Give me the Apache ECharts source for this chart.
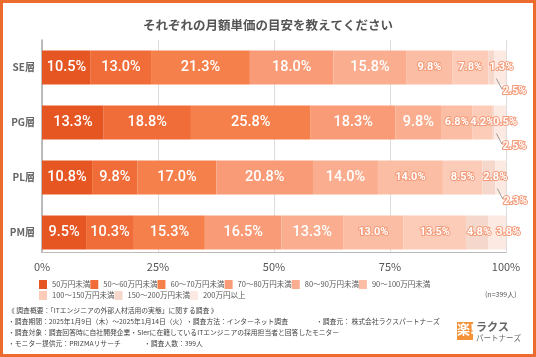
<!DOCTYPE html>
<html><head><meta charset="utf-8">
<script src="https://cdn.jsdelivr.net/npm/echarts@6/dist/echarts.min.js"></script>
<style>html,body{margin:0;padding:0;background:#fff}#c{width:536px;height:357px}</style>
</head><body><div id="c"></div>
<script>
const categories = ['SE層','PG層','PL層','PM層'];
const seriesNames = ['50万円未満','50～60万円未満','60～70万円未満','70～80万円未満','80～90万円未満','90～100万円未満','100～150万円未満','150～200万円未満','200万円以上'];
const s1 = [10.5,13.3,10.8,9.5];
const s2 = [13.0,18.8,9.8,10.3];
const s3 = [21.3,25.8,17.0,15.3];
const s4 = [18.0,18.3,20.8,16.5];
const s5 = [15.8,9.8,14.0,13.3];
const s6 = [9.8,6.8,14.0,13.0];
const s7 = [7.8,4.2,8.5,13.5];
const s8 = [1.3,0.5,2.8,4.8];
const s9 = [2.5,2.5,2.3,3.8];
const xTicks = [0,25,50,75,100];
const seriesValues = [s1,s2,s3,s4,s5,s6,s7,s8,s9];
const colors = ['#E65623','#F06C38','#F6804C','#F89B76','#FAAE8F','#FBBDA3','#FDCCB8','#F6D7CB','#FCE9E1'];
// which category labels of the last series are pulled outside with a leader line
const outsideLast = [true,true,true,false];

const NUMF = "Roboto,'Noto Sans',sans-serif";
const JP = "'Noto Sans CJK JP','Noto Sans',sans-serif";
const fmt = p => Number(p.value).toFixed(1) + '%';

const bigLabel = {show:true, position:'inside', color:'#fff', fontSize:14.5, fontWeight:500, fontFamily:NUMF, formatter:fmt};
const smallLabel = {show:true, position:'inside', color:'#fff', fontSize:11, fontWeight:'bold', fontFamily:NUMF,
  textBorderColor:'#F49A78', textBorderWidth:2, formatter:fmt};

const series = seriesValues.map((vals, si) => {
  const s = {
    name: seriesNames[si], type:'bar', stack:'total', barWidth:34,
    itemStyle:{color:colors[si]},
    label: si < 5 ? bigLabel : Object.assign({}, smallLabel),
    data: vals.slice()
  };
  if (si === 7) { s.label = Object.assign({}, smallLabel, {position:'insideLeft', distance:1}); }
  if (si === 8) {
    s.label = Object.assign({}, smallLabel, {position:'insideLeft', distance:8});
    s.labelLayout = p => outsideLast[p.dataIndex] ? {dy:24} : {};
  }
  return s;
});

// leader lines for the pulled-out labels, anchored at the start of the last segment
const leaderData = [];
categories.forEach((c, i) => {
  if (outsideLast[i]) {
    let start = 0;
    for (let k = 0; k < 8; k++) start += seriesValues[k][i];
    leaderData.push([start, i]);
  }
});
series.push({
  type:'custom', name:'leader', silent:true, z:5,
  renderItem: (params, api) => {
    const p = api.coord([api.value(0), api.value(1)]);
    return {type:'line', shape:{x1:p[0]+2, y1:p[1]+11, x2:p[0]+7.5, y2:p[1]+21.5},
      style:{stroke:'#9a9a9a', lineWidth:1}};
  },
  data: leaderData
});

const chart = echarts.init(document.getElementById('c'), null, {renderer:'canvas'});
chart.setOption({
  animation:false,
  title:{text:'それぞれの月額単価の目安を教えてください', left:'center', top:14,
    textStyle:{fontFamily:JP, fontSize:12.5, fontWeight:'bold', color:'#555'}},
  grid:{left:42, right:30, top:40, height:220},
  legend:[
    {data:seriesNames.slice(0,6), left:39, top:280, padding:0, itemWidth:8, itemHeight:9, itemGap:0, icon:'rect',
      textStyle:{fontFamily:JP, fontSize:7.5, color:'#555', width:58}},
    {data:seriesNames.slice(6), left:39, top:291, padding:0, itemWidth:8, itemHeight:9, itemGap:0, icon:'rect',
      textStyle:{fontFamily:JP, fontSize:7.5, color:'#555', width:73}}
  ],
  xAxis:{type:'value', min:xTicks[0], max:xTicks[xTicks.length-1], interval:25, offset:-8,
    axisLine:{show:true, lineStyle:{color:'#bbb', width:1}},
    axisTick:{show:false},
    splitLine:{lineStyle:{color:'#ddd', width:1}},
    axisLabel:{formatter:'{value}%', margin:9, fontFamily:JP, fontSize:11, color:'#555'}},
  yAxis:{type:'category', data:categories, inverse:true,
    axisLine:{show:true, lineStyle:{color:'#aaa', width:1.5}},
    axisTick:{show:false},
    axisLabel:{margin:7, fontFamily:JP, fontSize:10, fontWeight:'bold', color:'#666'}},
  series: series,
  graphic:[
    {type:'rect', z:100, shape:{x:36, y:253, width:480, height:7.5}, style:{fill:'#fff'}},
    {type:'rect', z:100, shape:{x:1.5, y:1.5, width:533, height:354}, style:{fill:'none', stroke:'#EE6B2F', lineWidth:3}},
    {type:'text', z:100, left:485, top:291, style:{text:'(n=399人)', font:"7px 'Noto Sans CJK JP'", fill:'#555'}},
    {type:'text', z:100, left:8, top:307, style:{text:'《 調査概要：「ITエンジニアの外部人材活用の実態」に関する調査 》', font:"6.8px 'Noto Sans CJK JP'", fill:'#444'}},
    {type:'text', z:100, left:8, top:318, style:{text:'・調査期間：2025年1月9日（木）～2025年1月14日（火）', font:"6.8px 'Noto Sans CJK JP'", fill:'#444'}},
    {type:'text', z:100, left:186, top:318, style:{text:'・調査方法：インターネット調査', font:"6.8px 'Noto Sans CJK JP'", fill:'#444'}},
    {type:'text', z:100, left:316, top:318, style:{text:'・調査元： 株式会社ラクスパートナーズ', font:"6.8px 'Noto Sans CJK JP'", fill:'#444'}},
    {type:'text', z:100, left:8, top:329, style:{text:'・調査対象：調査回答時に自社開発企業・SIerに在籍しているITエンジニアの採用担当者と回答したモニター', font:"6.8px 'Noto Sans CJK JP'", fill:'#444'}},
    {type:'text', z:100, left:8, top:340, style:{text:'・モニター提供元：PRIZMAリサーチ', font:"6.8px 'Noto Sans CJK JP'", fill:'#444'}},
    {type:'text', z:100, left:144, top:340, style:{text:'・調査人数：399人', font:"6.8px 'Noto Sans CJK JP'", fill:'#444'}},
    {type:'rect', z:100, shape:{x:457, y:322, width:16, height:18}, style:{fill:'#F39238'}},
    {type:'text', z:101, left:457, top:323, style:{text:'楽!', font:"bold 13px 'Noto Sans CJK JP'", fill:'#fff'}},
    {type:'text', z:100, left:476, top:321, style:{text:'ラクス', font:"bold 11px 'Noto Sans CJK JP'", fill:'#666'}},
    {type:'text', z:100, left:476, top:334, style:{text:'パートナーズ', font:"7.5px 'Noto Sans CJK JP'", fill:'#666'}}
  ]
});
</script></body></html>
